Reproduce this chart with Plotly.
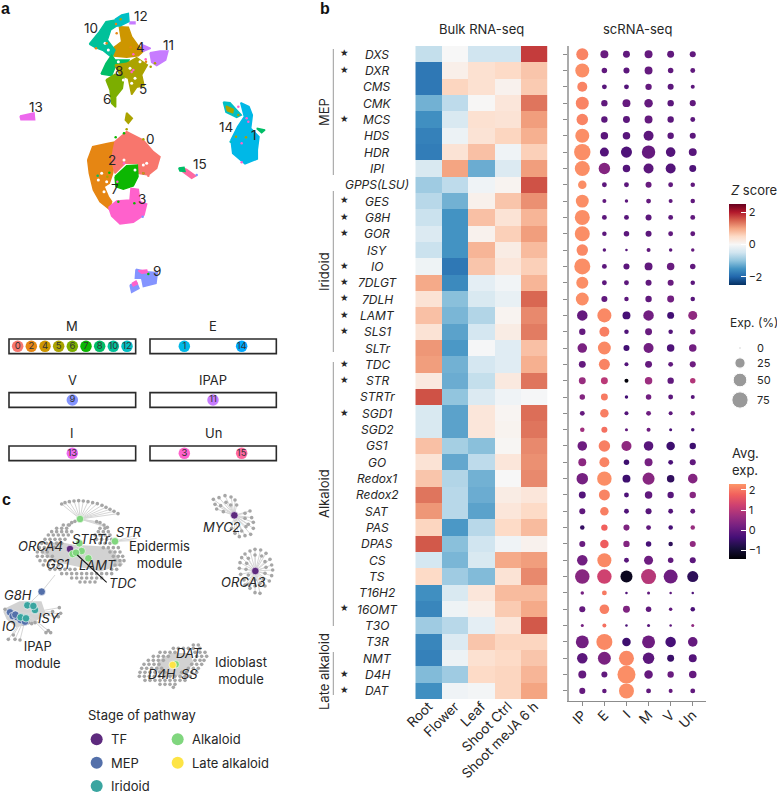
import math
import plotly.graph_objects as go

W = 777
H = 793
FONT = "Inter"
INK = "#262626"

GENES = ["DXS", "DXR", "CMS", "CMK", "MCS", "HDS", "HDR", "IPI", "GPPS(LSU)", "GES", "G8H", "GOR", "ISY", "IO",
         "7DLGT", "7DLH", "LAMT", "SLS1", "SLTr", "TDC", "STR", "STRTr", "SGD1", "SGD2", "GS1", "GO", "Redox1",
         "Redox2", "SAT", "PAS", "DPAS", "CS", "TS", "T16H2", "16OMT", "T3O", "T3R", "NMT", "D4H", "DAT"]
STARRED = ["DXS", "DXR", "MCS", "GES", "G8H", "GOR", "IO", "7DLGT", "7DLH", "LAMT", "SLS1", "TDC", "STR", "SGD1",
           "16OMT", "D4H", "DAT"]
TISSUES = ["Root", "Flower", "Leaf", "Shoot Ctrl", "Shoot meJA 6 h"]
CELL_TYPES = ["IP", "E", "I", "M", "V", "Un"]

# bulk RNA-seq z scores, one row per gene
ZSCORE = [
    [-0.6, 0.0, -0.5, -0.5, 1.75], [-1.8, 0.15, 0.4, 0.5, 0.7], [-1.8, 0.55, 0.4, 0.1, 0.65],
    [-1.2, -0.65, 0.02, 0.3, 1.35], [-1.55, -0.4, 0.4, 0.35, 1.05], [-1.7, -0.15, 0.35, 0.55, 0.9],
    [-1.75, 0.35, 0.75, -0.1, 0.6], [-0.4, 1.0, -1.25, -0.35, 1.05], [-0.9, -0.65, -0.1, 0.07, 1.6],
    [-0.7, -1.2, 0.12, 0.7, 1.15], [-0.55, -1.5, 0.75, 0.35, 0.85], [-0.35, -1.5, 0.1, 0.6, 1.05],
    [-0.55, -1.5, 0.85, 0.2, 0.8], [-0.12, -1.8, 0.7, 0.3, 0.6], [0.95, -1.6, -0.25, -0.08, 0.85],
    [0.35, -1.05, -0.4, -0.2, 1.45], [0.75, -1.15, -0.75, 0.07, 1.2], [0.35, -1.35, -0.45, 0.2, 1.3],
    [1.1, -1.45, -0.02, -0.3, 0.75], [1.05, -1.2, -0.45, -0.3, 0.9], [0.25, -1.25, -0.6, 0.25, 1.35],
    [1.6, -1.0, -0.35, -0.1, -0.02], [-0.4, -1.35, 0.3, 0.05, 1.4], [-0.4, -1.35, 0.3, 0.08, 1.35],
    [0.75, -0.85, -1.05, 0.04, 1.2], [0.35, -1.3, -0.65, 0.3, 1.15], [0.7, -0.75, -1.2, 0.0, 1.2],
    [1.35, -0.7, -1.25, 0.2, 0.3], [1.1, -0.7, -1.35, 0.3, 0.5], [0.55, -1.45, -0.7, 0.5, 0.8],
    [1.55, -1.05, -0.5, -0.1, 0.1], [-0.45, -1.15, -0.4, 0.95, 1.05], [0.5, -0.9, -1.1, 0.35, 1.2],
    [-1.55, -0.4, 0.3, 0.8, 0.8], [-1.65, -0.12, 0.15, 0.65, 0.95], [-0.9, -0.7, -0.25, 0.3, 1.55],
    [-1.65, -0.35, 0.7, 0.55, 0.55], [-1.7, -0.15, 0.4, 0.5, 0.7], [-1.1, -0.9, 0.5, 0.55, 0.85],
    [-1.55, -0.1, -0.05, 0.55, 1.0],
]

# scRNA-seq percent of cells expressing
EXP_PCT = [
    [37, 13, 9, 13, 9, 6], [53, 4.5, 6, 13, 4.5, 3], [23.5, 3, 3, 7, 6, 1.5], [44, 7, 13, 15.5, 7, 6],
    [33, 7, 9, 13, 7, 3], [53, 11, 11, 23.5, 7, 6], [77, 18, 30, 48, 21, 13], [62, 33, 11, 23.5, 23.5, 9],
    [15.5, 3, 3, 6, 3, 2.3], [44, 1.5, 0.8, 3, 1.5, 2.3], [62, 3, 3, 6, 3, 3], [62, 2.3, 4.5, 6, 3, 3],
    [33, 0.8, 0.1, 1.5, 0.8, 0.8], [72, 3, 6, 13, 11, 4.5], [37, 3, 3, 6, 6, 2.3], [44, 6, 2.3, 7, 9, 2.3],
    [26.5, 53, 13, 26.5, 9, 18], [7, 23.5, 2.3, 9, 2.3, 4.5], [21, 44, 6, 23.5, 11, 11], [9, 30, 1.5, 9, 3, 6],
    [9, 9, 1.5, 11, 7, 4.5], [4.5, 9, 0.8, 4.5, 3, 1.5], [3, 15.5, 1.5, 3, 1.5, 2.3], [2.3, 6, 0.4, 1.5, 0.4, 0.8],
    [21, 33, 23.5, 21, 15.5, 7], [13, 23.5, 4.5, 13, 3, 6], [33, 57, 13, 37, 11, 21], [9, 30, 3, 11, 7, 7],
    [6, 15.5, 3, 6, 3, 3], [2.3, 7, 6, 3, 2.3, 2.3], [6, 15.5, 7, 4.5, 2.3, 6], [26.5, 53, 3, 18, 4.5, 6],
    [57, 57, 37, 62, 53, 30], [0.8, 3, 0.1, 0.4, 0.1, 0.1], [6, 21, 9, 4.5, 0.8, 2.3], [0.4, 1.5, 0.1, 0.4, 0.1, 0.4],
    [44, 72, 15.5, 44, 26.5, 21], [26.5, 44, 62, 33, 9, 13], [13, 6, 94, 15.5, 7, 11], [6, 2.3, 62, 3, 1.5, 3],
]

# scRNA-seq average expression
AVG_EXP = [
    [2.1, 0.05, -0.05, 0, -0.05, -0.05], [2.2, -0.05, -0.1, 0, -0.05, -0.05], [2.1, -0.15, -0.2, 0, -0.1, -0.1],
    [2.1, -0.05, 0, 0, -0.1, -0.05], [2.1, -0.1, -0.1, 0, -0.1, -0.1], [2.2, -0.1, -0.15, -0.1, -0.1, -0.1],
    [2.2, -0.2, -0.25, 0, -0.2, -0.15], [2.2, 0.35, -0.2, -0.1, -0.2, -0.25], [2.2, -0.1, -0.1, 0.05, -0.05, -0.05],
    [2.2, -0.05, -0.1, 0, -0.05, -0.05], [2.2, -0.1, -0.15, -0.1, -0.1, -0.05], [2.2, -0.1, -0.1, -0.1, -0.05, -0.05],
    [2.15, -0.1, -0.2, -0.05, -0.1, 0], [2.2, -0.1, -0.1, -0.05, 0.05, -0.05], [2.2, -0.1, -0.1, -0.05, 0.05, -0.1],
    [2.2, -0.05, -0.1, -0.05, 0.15, -0.15], [0, 2.15, -0.35, 0.15, -0.4, 0.5], [0, 2.05, -0.25, 0.05, -0.2, 0.15],
    [0.25, 2.15, -0.4, 0.15, -0.25, 0.15], [0, 2.1, -0.2, 0, -0.05, 0.1], [0.6, 1.0, -1.4, 0.65, -0.05, 0.9],
    [0.35, 2.0, -0.4, 0.15, -0.1, -0.15], [0, 2.05, -0.2, 0.1, -0.1, 0.2], [0.7, 1.9, -0.05, 0.1, -0.3, -0.3],
    [0.1, 2.05, 0.5, -0.15, -0.45, -0.45], [0.45, 2.1, -0.45, 0.2, -0.3, -0.05], [0.2, 2.2, -0.45, 0.4, -0.6, 0.35],
    [-0.2, 2.1, -0.25, -0.05, -0.15, 0.4], [-0.05, 2.05, -0.25, -0.15, -0.2, 0], [-0.55, 1.75, 0.3, -0.05, -0.35, 0.6],
    [0.05, 1.7, 0.35, -0.35, -0.65, 0.5], [0.15, 2.15, -0.15, 0.1, -0.05, -0.1], [0.4, 1.25, -1.2, 0.95, 0.1, -0.65],
    [0.2, 2.0, -0.25, -0.05, -0.1, -0.25], [0, 2.05, 0.3, -0.05, -0.05, -0.3], [0.2, 1.9, -0.3, -0.15, -0.1, 0.5],
    [0.15, 2.15, -0.45, 0.1, -0.35, 0], [-0.1, 0.25, 2.15, -0.1, -0.5, -0.2], [0, -0.05, 2.2, 0, 0.05, 0],
    [0, -0.05, 2.2, -0.05, 0, -0.05],
]

EXP_LEGEND = [0, 25, 50, 75]
EXP_LEGEND_Y = [348, 363, 380, 400]

# panel a colours, in the order of the cluster boxes
CLUSTER_COLOR = {0: "#F8766D", 2: "#E68613", 4: "#CD9600", 5: "#ABA300", 6: "#7CAE00", 7: "#0CB702", 8: "#00BE67",
                 10: "#00C19A", 12: "#00BFC4", 1: "#00B8E7", 14: "#00A9FF", 9: "#8494FF", 11: "#C77CFF",
                 13: "#ED68ED", 3: "#FF61CC", 15: "#FF68A1"}

# UMAP cluster outlines
UMAP_BLOBS = [
    (2, [(263, 480), (278, 440), (325, 430), (350, 425), (345, 470), (338, 520), (328, 550), (312, 560), (325, 590),
         (335, 605), (328, 628), (300, 605), (280, 570), (268, 520)]),
    (0, [(345, 425), (380, 395), (430, 420), (460, 455), (480, 470), (470, 505), (445, 525), (415, 520), (415, 490),
         (375, 490), (345, 520), (335, 480), (340, 450)]),
    (7, [(345, 530), (380, 497), (412, 495), (414, 530), (400, 558), (370, 568), (348, 560)]),
    (3, [(326, 622), (350, 603), (390, 600), (393, 565), (415, 568), (420, 605), (440, 612), (432, 645), (400, 667),
         (360, 672), (335, 648)]),
    (9, [(408, 808), (440, 815), (472, 818), (468, 850), (430, 860), (425, 835), (406, 835)]),
    (9, [(390, 855), (410, 848), (417, 865), (395, 877)]),
    (3, [(396, 850), (408, 843), (412, 852), (400, 858)]),
    (3, [(415, 812), (440, 810), (442, 818), (425, 820)]),
    (4, [(358, 80), (385, 82), (395, 110), (415, 138), (434, 150), (415, 167), (380, 172), (342, 168), (338, 145),
         (365, 125)]),
    (10, [(268, 132), (298, 95), (318, 65), (345, 60), (350, 78), (332, 90), (322, 120), (345, 150), (335, 172),
          (310, 152), (285, 142)]),
    (12, [(345, 58), (365, 45), (385, 40), (387, 65), (360, 78), (348, 78)]),
    (8, [(303, 222), (318, 190), (335, 165), (345, 180), (387, 180), (380, 197), (345, 202), (335, 227)]),
    (5, [(345, 195), (380, 190), (410, 173), (442, 195), (425, 225), (432, 257), (410, 262), (395, 284), (385, 235),
         (360, 225)]),
    (6, [(318, 240), (345, 223), (372, 230), (367, 265), (347, 290), (347, 322), (335, 310), (330, 270)]),
    (11, [(450, 158), (480, 153), (504, 153), (497, 180), (470, 197), (455, 187)]),
    (11, [(425, 133), (452, 145), (430, 154)]),
    (11, [(390, 66), (405, 66), (405, 71), (390, 71)]),
    (13, [(60, 348), (102, 339), (104, 359), (63, 359)]),
    (1, [(722, 308), (747, 320), (757, 345), (752, 385), (777, 410), (772, 450), (772, 477), (735, 492), (698, 460),
         (693, 420), (713, 380), (733, 350)]),
    (12, [(670, 306), (690, 308), (724, 345), (710, 352), (678, 337)]),
    (5, [(678, 318), (700, 328), (698, 338), (682, 332)]),
    (8, [(770, 385), (795, 390), (785, 398)]),
    (15, [(552, 505), (560, 508), (587, 528), (575, 535), (548, 515)]),
    (8, [(536, 504), (552, 502), (555, 514), (540, 513)]),
    (5, [(380, 338), (397, 355), (385, 370), (376, 360)]),
]
UMAP_SPECKS = [
    (7, 347, 412), (7, 372, 400), (5, 380, 388), (5, 430, 418), (8, 293, 527), (5, 322, 530), (7, 328, 518),
    (8, 430, 520), (2, 430, 520), (0, 445, 527), (7, 403, 610), (7, 355, 605), (9, 428, 650), (3, 352, 545),
    (3, 372, 490), (3, 400, 210), (3, 395, 216), (3, 400, 163), (2, 350, 100), (2, 348, 72), (5, 362, 58),
    (2, 320, 130), (2, 288, 145), (5, 452, 200), (5, 465, 190), (3, 740, 355), (3, 745, 365), (3, 725, 430),
    (5, 738, 412), (5, 708, 410), (3, 725, 487), (12, 692, 425), (9, 590, 525), (7, 445, 822), (3, 715, 320),
    (5, 715, 345), (2, 392, 142), (3, 437, 178), (2, 438, 185),
]
UMAP_HOLES = [(320, 545), (312, 575), (330, 570), (305, 520), (295, 540), (405, 510),
              (430, 495), (440, 490), (372, 480), (325, 150), (315, 130), (350, 110), (345, 130),
              (390, 205), (370, 240), (405, 235), (395, 250), (420, 185), (355, 185), (440, 165)]
UMAP_LABELS = [("0", 450, 418), ("1", 762, 405), ("2", 337, 480), ("3", 425, 597), ("4", 420, 140), ("5", 430, 268),
               ("6", 320, 297), ("7", 345, 568), ("8", 357, 212), ("9", 470, 812), ("10", 273, 85), ("11", 505, 135),
               ("12", 422, 48), ("13", 108, 320), ("14", 677, 382), ("15", 600, 492)]

# cell-type boxes under the UMAP
BOX_TITLES = ["M", "E", "V", "IPAP", "I", "Un"]
BOX_CORNERS = [(27, 117, 407, 161), (450, 117, 829, 161), (27, 278, 407, 322), (450, 278, 829, 322),
               (27, 438, 407, 482), (450, 438, 829, 482)]
BOX_CLUSTERS = [[0, 2, 4, 5, 6, 7, 8, 10, 12], [1, 14], [9], [11], [13], [3, 15]]
BOX_CLUSTER_X = [[53, 94, 135, 176, 217, 258, 299, 340, 381], [553, 725], [217], [639], [217], [553, 725]]

# co-expression network, panel c
STAGE_COLOR = {"TF": "#5e2a7e", "MEP": "#5470aa", "Iridoid": "#3aa5a0", "Alkaloid": "#80d67e", "Late alkaloid": "#fde445"}

EPI_ROWS = {
    135: [190, 205], 145: [170, 185, 200, 300, 315], 155: [155, 170, 185, 200, 215, 295, 310, 325],
    165: [145, 160, 175, 190, 205, 285, 300, 315, 330], 178: [135, 150, 165, 180, 195, 290, 305, 320, 335],
    190: [125, 140, 155, 170, 185, 300, 315, 330, 345], 203: [118, 133, 148, 163, 310, 325, 340, 355],
    216: [112, 127, 142, 330, 345, 360], 229: [112, 127, 142, 157, 340, 355, 368],
    242: [120, 135, 150, 165, 345, 360, 372], 255: [130, 145, 160, 175, 345, 360],
    268: [150, 165, 180, 195, 210, 225, 335, 350], 281: [185, 200, 215, 230, 245, 260, 275, 290, 305, 320, 335],
    294: [215, 230, 245, 260, 275, 290, 305], 306: [240, 255, 270, 285],
}
EPI_FAN_TOP = [(185, 72), (195, 68), (208, 65), (222, 63), (236, 62), (250, 63), (264, 65), (278, 68), (292, 71),
               (306, 76), (318, 82), (330, 88), (342, 94), (354, 101)]
EPI_FAN_LOW = [(208, 135), (215, 128), (225, 124), (290, 125), (300, 128), (312, 135), (322, 142)]
EPI_MASS = [(130, 215), (170, 190), (220, 200), (300, 205), (335, 215), (360, 250), (300, 268), (220, 250), (170, 240)]
EPI_STR_LEAVES = [(400, 168), (410, 175), (395, 182)]
EPI_HUBS = [("TF", 210, 207), ("Alkaloid", 218, 222), ("Alkaloid", 238, 190), ("Alkaloid", 245, 213),
            ("Alkaloid", 228, 218), ("Alkaloid", 265, 235), ("Alkaloid", 345, 184), ("Alkaloid", 240, 117)]

IPAP_LEAVES = [(15, 388), (25, 478), (45, 478), (60, 480), (138, 458), (152, 458), (145, 452), (178, 383), (182, 400),
               (175, 410), (158, 395), (40, 465), (70, 432), (85, 428), (105, 428), (95, 431)]
IPAP_MASS = [(15, 392), (60, 370), (120, 370), (130, 400), (95, 425), (50, 435), (25, 415)]
IPAP_HUBS = [("MEP", 125, 335), ("MEP", 30, 397), ("MEP", 38, 408), ("MEP", 52, 412), ("MEP", 62, 420), ("MEP", 75, 425),
             ("MEP", 46, 404), ("Iridoid", 82, 376), ("Iridoid", 105, 390), ("Iridoid", 100, 378), ("Iridoid", 62, 412),
             ("Iridoid", 78, 415)]

IDIO_ROWS = {
    495: [580, 595], 505: [520, 535, 550, 565, 580, 600], 517: [480, 495, 510, 525, 585, 600, 615],
    529: [460, 475, 490, 505, 590, 605, 620], 541: [445, 460, 475, 490, 585, 600, 612],
    553: [432, 447, 462, 477, 575, 590, 605], 565: [425, 440, 455, 470, 485, 565, 580, 595],
    577: [420, 435, 450, 465, 480, 495, 545, 560, 575, 590],
    589: [418, 433, 448, 463, 478, 493, 510, 525, 540, 555, 570],
    601: [435, 450, 465, 480, 495, 510, 525, 540, 555], 613: [480, 495, 510, 525], 622: [520],
}
IDIO_MASS = [(480, 545), (515, 525), (565, 525), (575, 550), (545, 580), (495, 585), (475, 570)]
IDIO_HUBS = [("Alkaloid", 527, 553), ("Late alkaloid", 518, 555)]

MYC2_HUB = (703, 106)
MYC2_LEAVES = [(640, 58), (657, 53), (675, 47), (693, 51), (705, 60), (645, 73), (662, 77), (678, 67), (692, 75), (710, 75),
               (650, 87), (670, 95), (735, 100), (750, 93), (735, 115), (755, 113), (760, 127), (745, 133), (760, 145),
               (738, 140), (752, 163), (735, 167), (718, 170), (705, 160), (725, 153), (695, 145)]
ORCA3_HUB = (766, 273)
ORCA3_LEAVES = [(765, 208), (782, 210), (750, 213), (735, 222), (798, 220), (725, 233), (765, 225), (785, 228), (810, 238),
                (745, 235), (720, 248), (740, 250), (815, 255), (795, 245), (718, 265), (738, 268), (818, 270), (798, 262),
                (722, 283), (745, 285), (815, 287), (795, 280), (732, 300), (808, 303), (790, 297), (745, 313), (795, 318),
                (765, 300), (780, 310), (750, 325), (765, 338), (780, 340), (765, 318), (735, 315)]

NET_LABELS = [("ORCA4", 120, 198), ("STRTr", 275, 178), ("STR", 388, 155), ("GS1", 175, 253), ("LAMT", 293, 255),
              ("TDC", 368, 310), ("G8H", 55, 345), ("ISY", 147, 413), ("IO", 25, 437), ("DAT", 568, 520),
              ("D4H", 487, 583), ("SS", 568, 583), ("MYC2", 665, 140), ("ORCA3", 730, 305)]
NET_MODULES = [("Epidermis<br>module", 477, 223), ("IPAP<br>module", 115, 522), ("Idioblast<br>module", 723, 571)]
STAGE_LEGEND = [("TF", 290, 778), ("MEP", 290, 848), ("Iridoid", 290, 918), ("Alkaloid", 533, 778), ("Late alkaloid", 533, 848)]


def px_x(x0, x1):
    return [x0 / W, x1 / W]


def px_y(y0, y1):
    return [1 - y1 / H, 1 - y0 / H]


def hidden_axis(domain, rng, anchor):
    return dict(domain=domain, range=rng, anchor=anchor, visible=False, fixedrange=True)


def row_nodes(rows):
    return [(x, y) for y, xs in rows.items() for x in xs]


def spokes(hub, leaves):
    xs, ys = [], []
    for x, y in leaves:
        xs += [hub[0], x, None]
        ys += [hub[1], y, None]
    return xs, ys


def dot_size(pct):
    return 2 + 1.65 * math.sqrt(pct)


annotations = []


def note(text, x, y, xref="paper", yref="paper", size=13, color=INK, xanchor="center", angle=0, family=FONT):
    annotations.append(dict(text=text, x=x, y=y, xref=xref, yref=yref, showarrow=False, xanchor=xanchor,
                            yanchor="middle", textangle=angle, font=dict(family=family, size=size, color=color)))


def page(x, y):
    return x / W, 1 - y / H


fig = go.Figure()

# b: heatmap
fig.add_trace(go.Heatmap(
    z=ZSCORE, x=TISSUES, y=GENES, xaxis="x", yaxis="y", colorscale="RdBu_r", zmin=-2.5, zmax=2.5, showscale=True,
    colorbar=dict(x=729 / W, xanchor="left", y=1 - 204 / H, yanchor="top", lenmode="pixels", len=81, thickness=16.5,
                  thicknessmode="pixels", xpad=0, ypad=0, outlinewidth=0, ticks="inside", tickcolor="white", ticklen=5,
                  tickvals=[-2, 0, 2], ticktext=["\u22122", "0", "2"], tickfont=dict(family=FONT, size=11, color=INK))))

# b: dot plot
dot_x, dot_y, dot_sizes, dot_colors = [], [], [], []
for r, gene in enumerate(GENES):
    for c, cell in enumerate(CELL_TYPES):
        dot_x.append(cell)
        dot_y.append(gene)
        dot_sizes.append(dot_size(EXP_PCT[r][c]))
        dot_colors.append(AVG_EXP[r][c])

MAGMA_CUT = [[0.0, "#000004"], [0.143, "#180f3d"], [0.286, "#440f76"], [0.429, "#721f81"], [0.571, "#9e2f7f"],
             [0.714, "#cd4071"], [0.857, "#f1605d"], [1.0, "#fd9668"]]
fig.add_trace(go.Scatter(
    x=dot_x, y=dot_y, xaxis="x2", yaxis="y2", mode="markers",
    marker=dict(size=dot_sizes, sizemode="diameter", color=dot_colors, cmin=-1.45, cmax=2.28, colorscale=MAGMA_CUT,
                line=dict(width=0), opacity=1,
                colorbar=dict(x=729 / W, xanchor="left", y=1 - 484.3 / H, yanchor="top", lenmode="pixels", len=75,
                              thickness=16.5, thicknessmode="pixels", xpad=0, ypad=0, outlinewidth=0, ticks="inside",
                              tickcolor="white", ticklen=5, tickvals=[-1, 0, 1, 2], ticktext=["\u22121", "0", "1", "2"],
                              tickfont=dict(family=FONT, size=11, color=INK)))))

# a: UMAP
for cluster, outline in UMAP_BLOBS:
    xs = [p[0] for p in outline] + [outline[0][0]]
    ys = [p[1] for p in outline] + [outline[0][1]]
    color = CLUSTER_COLOR[cluster]
    fig.add_trace(go.Scatter(x=xs, y=ys, xaxis="x3", yaxis="y3", mode="lines", fill="toself", fillcolor=color,
                             line=dict(color=color, width=1.5)))
fig.add_trace(go.Scatter(x=[p[0] for p in UMAP_HOLES], y=[p[1] for p in UMAP_HOLES], xaxis="x3", yaxis="y3",
                         mode="markers", marker=dict(size=3, color="white")))
fig.add_trace(go.Scatter(x=[p[1] for p in UMAP_SPECKS], y=[p[2] for p in UMAP_SPECKS], xaxis="x3", yaxis="y3",
                         mode="markers", marker=dict(size=2.5, color=[CLUSTER_COLOR[p[0]] for p in UMAP_SPECKS])))
for text, x, y in UMAP_LABELS:
    note(text, x, y, "x3", "y3", size=13.5)

# a: cell-type boxes
shapes = []
for corners, title, clusters, xs in zip(BOX_CORNERS, BOX_TITLES, BOX_CLUSTERS, BOX_CLUSTER_X):
    shapes.append(dict(type="rect", xref="x4", yref="y4", x0=corners[0], y0=corners[1], x1=corners[2], y1=corners[3],
                       line=dict(color="#2b2b2b", width=1.6), fillcolor="white", layer="below"))
    y_mid = (corners[1] + corners[3]) / 2
    fig.add_trace(go.Scatter(x=xs, y=[y_mid] * len(xs), xaxis="x4", yaxis="y4", mode="markers+text",
                             text=[str(c) for c in clusters], textposition="middle center",
                             textfont=dict(family=FONT, size=9.5, color="#333"),
                             marker=dict(size=11.5, color=[CLUSTER_COLOR[c] for c in clusters])))
    note(title, (corners[0] + corners[2]) / 2, corners[1] - 38, "x4", "y4", size=13)

# c: network, grey masses and spokes first
for mass in [EPI_MASS, IPAP_MASS, IDIO_MASS]:
    fig.add_trace(go.Scatter(x=[p[0] for p in mass] + [mass[0][0]], y=[p[1] for p in mass] + [mass[0][1]],
                             xaxis="x5", yaxis="y5", mode="lines", fill="toself", fillcolor="#d2d2d2",
                             line=dict(color="#d2d2d2", width=4)))

epi_nodes = row_nodes(EPI_ROWS)
idio_nodes = row_nodes(IDIO_ROWS)
edge_sets = [
    ((240, 117), EPI_FAN_TOP), ((240, 117), EPI_FAN_LOW), ((345, 184), EPI_STR_LEAVES),
    ((80, 400), IPAP_LEAVES), ((125, 335), [(165, 285), (82, 376)]),
    (MYC2_HUB, MYC2_LEAVES), (ORCA3_HUB, ORCA3_LEAVES),
]
for hub, leaves in edge_sets:
    xs, ys = spokes(hub, leaves)
    fig.add_trace(go.Scatter(x=xs, y=ys, xaxis="x5", yaxis="y5", mode="lines", line=dict(color="#d6d6d6", width=1)))

all_leaves = epi_nodes + idio_nodes + EPI_FAN_TOP + EPI_FAN_LOW + IPAP_LEAVES + MYC2_LEAVES + ORCA3_LEAVES
fig.add_trace(go.Scatter(x=[p[0] for p in all_leaves], y=[p[1] for p in all_leaves], xaxis="x5", yaxis="y5",
                         mode="markers", marker=dict(size=3.6, color="#a6a6a6")))

hubs = EPI_HUBS + IPAP_HUBS + IDIO_HUBS + [("TF", MYC2_HUB[0], MYC2_HUB[1]), ("TF", ORCA3_HUB[0], ORCA3_HUB[1])]
fig.add_trace(go.Scatter(x=[h[1] for h in hubs], y=[h[2] for h in hubs], xaxis="x5", yaxis="y5", mode="markers",
                         marker=dict(size=7.5, color=[STAGE_COLOR[h[0]] for h in hubs],
                                     line=dict(color="white", width=0.6))))

# black leader from the TDC label
fig.add_trace(go.Scatter(x=[232, 320], y=[225, 307], xaxis="x5", yaxis="y5", mode="lines",
                         line=dict(color="#111", width=1.1)))

for text, x, y in NET_LABELS:
    note("<i>%s</i>" % text, x, y, "x5", "y5", size=13)
for text, x, y in NET_MODULES:
    note(text, x, y, "x5", "y5", size=13)

note("Stage of pathway", 257, 706, "x5", "y5", size=13, xanchor="left")
fig.add_trace(go.Scatter(x=[s[1] for s in STAGE_LEGEND], y=[s[2] for s in STAGE_LEGEND], xaxis="x5", yaxis="y5",
                         mode="markers", marker=dict(size=12, color=[STAGE_COLOR[s[0]] for s in STAGE_LEGEND])))
for text, x, y in STAGE_LEGEND:
    note(text, x + 38, y, "x5", "y5", size=13, xanchor="left")

# b: expression legend
fig.add_trace(go.Scatter(x=[740] * len(EXP_LEGEND), y=EXP_LEGEND_Y, xaxis="x6", yaxis="y6", mode="markers",
                         marker=dict(size=[dot_size(p) for p in EXP_LEGEND], color="#6f6f6f")))
for value, y in zip(EXP_LEGEND, EXP_LEGEND_Y):
    note(str(value), 755, y, "x6", "y6", size=11, xanchor="left")

# b: gene labels, stars and pathway brackets
for r, gene in enumerate(GENES):
    note("<i>%s</i>" % gene, 377 / W, r, "paper", "y", size=12)
    if gene in STARRED:
        note("\u2605", 344 / W, r - 0.08, "paper", "y", size=9.5, family="DejaVu Sans")

for y0, y1 in [(49, 175), (191, 352), (362, 626), (652, 695)]:
    shapes.append(dict(type="line", xref="paper", yref="paper", x0=333.3 / W, x1=333.3 / W, y0=1 - y0 / H, y1=1 - y1 / H,
                       line=dict(color="#9a9a9a", width=1)))
for text, y in [("MEP", 112), ("Iridoid", 272), ("Alkaloid", 494), ("Late alkaloid", 672)]:
    px, py = page(324, y)
    note(text, px, py, size=13, angle=-90)

for text, x, y, size, anchor in [("Bulk RNA-seq", 481, 28.5, 13, "center"), ("scRNA-seq", 637.5, 28.5, 13, "center"),
                                 ("<i>Z</i> score", 729, 190, 13, "left"), ("Exp. (%)", 728, 323, 12, "left"),
                                 ("Avg.", 730, 453, 13, "left"), ("exp.", 730, 470, 13, "left")]:
    px, py = page(x, y)
    note(text, px, py, size=size, xanchor=anchor)

for text, x, y in [("a", 5, 9), ("b", 325, 9), ("c", 6, 499)]:
    px, py = page(x, y)
    note("<b>%s</b>" % text, px, py, size=16, family="Liberation Sans", color="#111")

fig.update_layout(
    width=W, height=H, margin=dict(l=0, r=0, t=0, b=0), showlegend=False, template="none",
    paper_bgcolor="white", plot_bgcolor="rgba(0,0,0,0)", font=dict(family=FONT, color=INK),
    annotations=annotations, shapes=shapes,
    xaxis=dict(domain=px_x(415.3, 547.7), anchor="y", type="category", tickangle=-45, ticks="", showgrid=False,
               zeroline=False, tickfont=dict(family=FONT, size=13.5, color=INK), fixedrange=True, ticklabelstandoff=-4),
    yaxis=dict(domain=px_y(46, 699), anchor="x", type="category", range=[39.5, -0.5], showticklabels=False, ticks="",
               showgrid=False, zeroline=False, fixedrange=True),
    xaxis2=dict(domain=px_x(569.3, 706), anchor="y2", type="category", categoryorder="array", categoryarray=CELL_TYPES,
                range=[-0.588, 5.6], tickangle=-45, ticks="outside", ticklen=4, tickcolor="#8c8c8c", showgrid=False,
                zeroline=False, showline=True, linecolor="#8c8c8c", linewidth=1,
                tickfont=dict(family=FONT, size=13.5, color=INK), fixedrange=True, ticklabelstandoff=-4),
    yaxis2=dict(domain=px_y(46, 701), anchor="x2", type="category", categoryorder="array", categoryarray=GENES,
                range=[39.62, -0.5], showticklabels=False, ticks="outside", ticklen=4, tickcolor="#8c8c8c", showgrid=False,
                zeroline=False, showline=True, linecolor="#ababab", linewidth=2, fixedrange=True),
    xaxis3=hidden_axis(px_x(0, 270), [0, 810], "y3"),
    yaxis3=hidden_axis(px_y(0, 300), [900, 0], "x3"),
    xaxis4=hidden_axis(px_x(0, 320), [0, 960], "y4"),
    yaxis4=hidden_axis(px_y(300, 480), [540, 0], "x4"),
    xaxis5=hidden_axis(px_x(0, 320), [0, 960], "y5"),
    yaxis5=hidden_axis(px_y(480, 793), [939, 0], "x5"),
    xaxis6=hidden_axis(px_x(0, 777), [0, 777], "y6"),
    yaxis6=hidden_axis(px_y(0, 793), [793, 0], "x6"),
)

# the page's default body margin would push the figure 8 px off
fig.write_html("out.html", config=dict(displayModeBar=False), post_script="document.body.style.margin='0';")
